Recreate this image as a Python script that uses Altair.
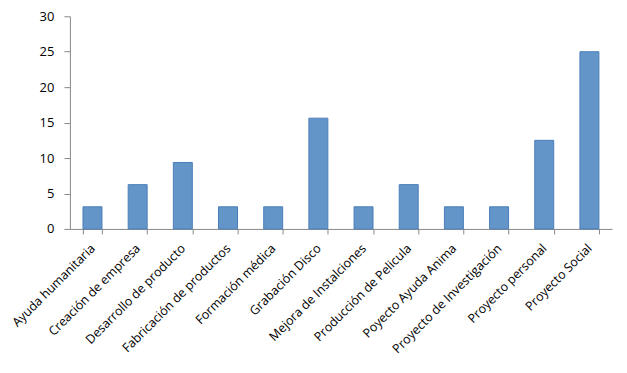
import altair as alt
import pandas as pd

categories = [
    "Ayuda humanitaria", "Creación de empresa", "Desarrollo de producto",
    "Fabricación de  productos", "Formación médica", "Grabación Disco",
    "Mejora de Instalciones", "Producción de Pelicula", "Poyecto Ayuda Anima",
    "Proyecto de  Investigación", "Proyecto personal", "Proyecto Social",
]
values = [3.125, 6.25, 9.375, 3.125, 3.125, 15.625, 3.125, 6.25, 3.125, 3.125, 12.5, 25.0]

df = pd.DataFrame({"cat": categories, "val": values})

chart = alt.Chart(df).mark_bar(
    color="#6495C8", stroke="#4A7EBB", strokeWidth=1
).encode(
    x=alt.X("cat:N", sort=categories, title=None,
            scale=alt.Scale(paddingInner=0.58, paddingOuter=0.29),
            axis=alt.Axis(labelAngle=-45, labelAlign="right", labelBaseline="middle",
                          labelFont="Open Sans", labelFontSize=12.5, labelColor="#000",
                          tickBand="extent", tickSize=5, tickColor="#888",
                          domainColor="#888", labelPadding=12, labelLimit=200)),
    y=alt.Y("val:Q", title=None,
            scale=alt.Scale(domain=[0, 30], nice=False),
            axis=alt.Axis(values=[0, 5, 10, 15, 20, 25, 30], grid=False,
                          labelFont="Open Sans", labelFontSize=13, labelColor="#000",
                          tickSize=6, tickColor="#888", domainColor="#888",
                          labelPadding=10)),
).properties(
    width=543, height=213,
    autosize=alt.AutoSizeParams(type="none"),
    padding={"left": 62, "top": 8, "right": 7, "bottom": 140},
).configure_view(stroke=None)

chart.save("out.html", embed_options={"renderer": "svg", "actions": False})
